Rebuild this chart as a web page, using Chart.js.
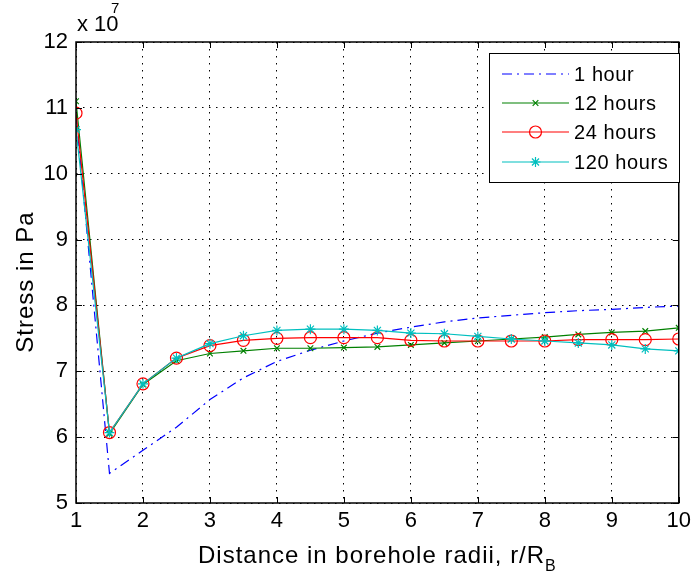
<!DOCTYPE html>
<html>
<head>
<meta charset="utf-8">
<script src="https://cdn.jsdelivr.net/npm/chart.js@4.4.1/dist/chart.umd.min.js"></script>
<style>
  html, body { margin: 0; padding: 0; background: #fff; }
  #wrap { width: 696px; height: 579px; position: relative; }
</style>
</head>
<body>
<div id="wrap"><canvas id="stress-chart"></canvas></div>
<script>
// Distance in borehole radii, r/R_B
const distances = [1, 1.5, 2, 2.5, 3, 3.5, 4, 4.5, 5, 5.5, 6, 6.5, 7, 7.5, 8, 8.5, 9, 9.5, 10];

// Stress values, in units of 10^7 Pa
const stress1h   = [10.9, 5.45, 5.8, 6.15, 6.57, 6.9, 7.15, 7.32, 7.46, 7.58, 7.67, 7.75, 7.81, 7.85, 7.89, 7.92, 7.94, 7.97, 7.99];
const stress12h  = [11.1, 6.05, 6.8, 7.16, 7.27, 7.31, 7.35, 7.35, 7.36, 7.37, 7.40, 7.43, 7.46, 7.49, 7.52, 7.56, 7.59, 7.61, 7.66];
const stress24h  = [10.92, 6.07, 6.81, 7.2, 7.39, 7.47, 7.5, 7.51, 7.51, 7.51, 7.47, 7.46, 7.46, 7.46, 7.46, 7.48, 7.48, 7.48, 7.49];
const stress120h = [10.67, 6.07, 6.81, 7.2, 7.42, 7.54, 7.62, 7.64, 7.64, 7.62, 7.58, 7.57, 7.53, 7.49, 7.46, 7.43, 7.40, 7.34, 7.31];

const xTicks = [1, 2, 3, 4, 5, 6, 7, 8, 9, 10];
const yTicks = [5, 6, 7, 8, 9, 10, 11, 12];

const FONT = "'Liberation Sans', Arial, sans-serif";
const NARROW = "'Liberation Sans Narrow', 'Arial Narrow', 'Liberation Sans', sans-serif";

function toPoints(ys) {
  return distances.map((x, i) => ({ x: x, y: ys[i] }));
}

const series = [
  { label: '1 hour',    data: stress1h,   color: '#0000ff', dash: [10, 5, 2, 5], marker: false,      radius: 0, order: 4 },
  { label: '12 hours',  data: stress12h,  color: '#008000', dash: [],            marker: 'crossRot', radius: 4, order: 3 },
  { label: '24 hours',  data: stress24h,  color: '#ff0000', dash: [],            marker: 'circle',   radius: 6, order: 2 },
  { label: '120 hours', data: stress120h, color: '#00bfbf', dash: [],            marker: 'star',     radius: 5, order: 1 },
];

const datasets = series.map(s => ({
  label: s.label,
  data: toPoints(s.data),
  borderColor: s.color,
  backgroundColor: 'rgba(0,0,0,0)',
  borderWidth: 1.2,
  borderDash: s.dash,
  pointStyle: s.marker || 'circle',
  pointRadius: s.radius,
  pointBorderColor: s.color,
  pointBackgroundColor: 'rgba(0,0,0,0)',
  pointBorderWidth: 1.2,
  tension: 0,
  order: s.order,
}));

// Draws the axes box, inward ticks, axis titles, exponent and the boxed legend
const matlabDecor = {
  id: 'matlabDecor',
  afterDraw(chart) {
    const ctx = chart.ctx;
    const a = chart.chartArea;
    const xs = chart.scales.x, ys = chart.scales.y;
    ctx.save();

    // box
    ctx.strokeStyle = '#000';
    ctx.lineWidth = 1.5;
    ctx.setLineDash([]);
    ctx.strokeRect(a.left, a.top, a.right - a.left, a.bottom - a.top);

    // inward ticks
    ctx.lineWidth = 1;
    const tl = 6;
    ctx.beginPath();
    xTicks.forEach(v => {
      const px = Math.round(xs.getPixelForValue(v)) + 0.5;
      ctx.moveTo(px, a.bottom); ctx.lineTo(px, a.bottom - tl);
      ctx.moveTo(px, a.top); ctx.lineTo(px, a.top + tl);
    });
    yTicks.forEach(v => {
      const py = Math.round(ys.getPixelForValue(v)) + 0.5;
      ctx.moveTo(a.left, py); ctx.lineTo(a.left + tl, py);
      ctx.moveTo(a.right, py); ctx.lineTo(a.right - tl, py);
    });
    ctx.stroke();

    ctx.fillStyle = '#000';

    // exponent label
    ctx.font = '22px ' + NARROW;
    ctx.textAlign = 'left';
    ctx.textBaseline = 'alphabetic';
    ctx.fillText('x 10', 77, 31);
    ctx.font = '15px ' + NARROW;
    ctx.fillText('7', 111, 13);

    // x axis title with subscript
    ctx.letterSpacing = '1px';
    ctx.font = '24px ' + FONT;
    const main = 'Distance in borehole radii, r/R';
    const wMain = ctx.measureText(main).width;
    ctx.font = '16px ' + FONT;
    const wSub = ctx.measureText('B').width;
    const startX = (a.left + a.right) / 2 - (wMain + wSub) / 2;
    ctx.font = '24px ' + FONT;
    ctx.fillText(main, startX, 563);
    ctx.font = '16px ' + FONT;
    ctx.fillText('B', startX + wMain, 571);

    // y axis title
    ctx.save();
    ctx.translate(33, 282);
    ctx.rotate(-Math.PI / 2);
    ctx.font = '24px ' + FONT;
    ctx.textAlign = 'center';
    ctx.fillText('Stress in Pa', 0, 0);
    ctx.restore();
    ctx.letterSpacing = '0px';

    // legend
    const lx = 489, ly = 53, lw = 190, lh = 129;
    ctx.fillStyle = '#fff';
    ctx.fillRect(lx, ly, lw, lh);
    ctx.strokeStyle = '#000';
    ctx.lineWidth = 1;
    ctx.strokeRect(lx + 0.5, ly + 0.5, lw, lh);
    const rows = [74, 103, 132, 162];
    series.forEach((s, i) => {
      const y = rows[i];
      ctx.strokeStyle = s.color;
      ctx.lineWidth = 1.2;
      ctx.setLineDash(s.dash);
      ctx.beginPath();
      ctx.moveTo(502, y); ctx.lineTo(569, y);
      ctx.stroke();
      ctx.setLineDash([]);
      if (s.marker) {
        ctx.fillStyle = 'rgba(0,0,0,0)';
        Chart.helpers.drawPoint(ctx, {
          pointStyle: s.marker,
          radius: s.radius,
          rotation: 0,
          borderWidth: 1.2,
        }, 535.5, y);
      }
      ctx.fillStyle = '#000';
      ctx.letterSpacing = '0.6px';
      ctx.font = '20px ' + FONT;
      ctx.textAlign = 'left';
      ctx.textBaseline = 'middle';
      ctx.fillText(s.label, 574, y + 1);
      ctx.letterSpacing = '0px';
    });

    ctx.restore();
  }
};

new Chart(document.getElementById('stress-chart'), {
  type: 'line',
  data: { datasets: datasets },
  options: {
    responsive: true,
    maintainAspectRatio: false,
    animation: false,
    layout: { padding: { top: 42, right: 12, left: 0, bottom: 0 } },
    plugins: {
      legend: { display: false },
      tooltip: { enabled: false },
    },
    scales: {
      x: {
        type: 'linear',
        min: 1,
        max: 10,
        afterBuildTicks: scale => { scale.ticks = xTicks.map(v => ({ value: v })); },
        afterFit: scale => { scale.height = 76; },
        border: { display: false, dash: [1.5, 5.5] },
        grid: {
          color: '#000',
          lineWidth: 1,
          drawTicks: false,
        },
        ticks: {
          color: '#000',
          font: { family: NARROW, size: 22 },
          padding: 5,
          maxRotation: 0,
        },
      },
      y: {
        type: 'linear',
        min: 5,
        max: 12,
        afterBuildTicks: scale => { scale.ticks = yTicks.map(v => ({ value: v })); },
        afterFit: scale => { scale.width = 76; },
        border: { display: false, dash: [1.5, 5.5] },
        grid: {
          color: '#000',
          lineWidth: 1,
          drawTicks: false,
        },
        ticks: {
          color: '#000',
          font: { family: NARROW, size: 22 },
          padding: 8,
        },
      },
    },
  },
  plugins: [matlabDecor],
});
</script>
</body>
</html>
